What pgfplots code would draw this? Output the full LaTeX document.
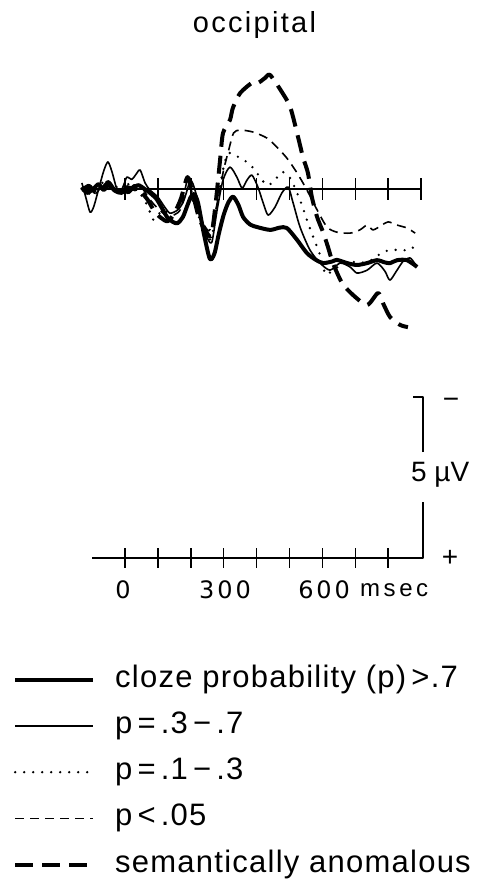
\documentclass[border=0pt]{standalone}
\usepackage{fontspec}
\setmainfont{Liberation Sans}
\newfontfamily\lab[LetterSpace=4]{Liberation Sans}
\newfontfamily\tit[LetterSpace=8]{Liberation Sans}
\newfontfamily\num[LetterSpace=12]{DejaVu Sans}
\newfontfamily\unit[LetterSpace=15]{Liberation Sans}
\usepackage{pgfplots}
\pgfplotsset{compat=1.18}

\begin{document}
\begin{tikzpicture}
\begin{axis}[
  scale only axis, width=481pt, height=887pt,
  xmin=-379.9, xmax=1082.1, ymin=-5.870, ymax=21.677,
  y dir=reverse, hide axis, clip=false,
  legend cell align=left,
  legend style={at={(0.0208,0.2525)}, anchor=north west, draw=none, fill=none,
    row sep=17.25pt, column sep=20pt,
    nodes={inner sep=0pt, text height=22pt, text depth=7pt,
      font={\lab\fontsize{31}{36}\selectfont}}},
  legend image code/.code={\draw[#1] (0pt,0pt) -- (78pt,0pt);},
  every axis plot/.append style={smooth, tension=0.45, line join=round},
]
% cloze probability > .7 (thick solid)
\addplot[black, line width=4pt] coordinates {
(-131,-0.06) (-115,0.12) (-97,0.0) (-80,-0.15) (-65,0.03) (-49,-0.12) (-30,0.06) (-10,0.12)
(6,-0.06) (21,0.0) (40,-0.12) (60,0.0) (76,0.12) (95,0.30) (110,0.55) (128,0.87) (145,1.02)
(160,1.06) (176,0.87) (190,0.50) (200,0.25) (210,0.15) (222,0.43) (240,1.40) (258,2.17)
(272,2.00) (285,1.40) (300,0.80) (315,0.40) (329,0.24) (345,0.50) (359,0.87) (380,1.10)
(401,1.18) (441,1.27) (470,1.20) (492,1.21) (523,1.58) (553,1.99) (580,2.20) (602,2.30)
(630,2.25) (644,2.20) (675,2.30) (705,2.36) (736,2.30) (766,2.21) (790,2.28) (806,2.30)
(827,2.21) (857,2.21) (888,2.42)};
% p = .3-.7 (thin solid)
\addplot[black, line width=1.6pt] coordinates {
(-131,-0.19) (-118,0.30) (-106,0.72) (-95,0.55) (-80,0.0) (-65,-0.55) (-52,-0.84) (-40,-0.55)
(-25,0.0) (-15,0.12) (-3,-0.15) (6,-0.37) (21,-0.30) (33,-0.45) (46,-0.59) (61,-0.19) (76,0.03)
(100,0.25) (120,0.55) (137,0.75) (160,0.65) (176,0.43) (190,0.0) (198,-0.28) (207,-0.15)
(220,0.30) (235,1.00) (249,1.49) (264,1.65) (280,0.65) (298,-0.28) (319,-0.68) (340,-0.37)
(356,-0.03) (371,-0.28) (386,-0.43) (404,-0.06) (420,0.43) (435,0.81) (456,0.56) (477,0.12)
(496,-0.06) (511,0.43) (532,1.18) (562,1.89) (593,2.30) (623,2.52) (654,2.30) (684,2.42)
(705,2.61) (736,2.52) (766,2.30) (790,2.55) (805,2.83) (825,2.55) (845,2.25) (866,2.14)
(880,2.30) (888,2.40)};
% p = .1-.3 (dotted)
\addplot[black, line width=2.6pt, line cap=round, dash pattern=on 0pt off 9pt] coordinates {
(-131,0.0) (-110,0.15) (-90,-0.10) (-70,-0.20) (-50,0.0) (-30,-0.10) (-10,0.10) (10,-0.15)
(30,-0.05) (50,0.20) (70,0.55) (85,0.95) (100,0.80) (120,0.65) (140,0.90) (165,1.00) (185,0.60)
(200,0.30) (215,0.55) (235,1.20) (255,1.60) (270,1.20) (285,0.20) (300,-0.70) (315,-1.12)
(350,-0.96) (374,-0.81) (395,-0.59) (416,-0.28) (435,-0.12) (456,-0.28) (477,-0.53)
(502,-0.34) (532,0.34) (553,0.96) (572,1.49) (593,2.05) (610,2.65) (632,2.52) (675,2.27)
(736,2.27) (784,1.96) (815,1.89) (866,1.89) (888,1.65)};
% p < .05 (thin dashed)
\addplot[black, line width=1.6pt, dash pattern=on 9pt off 6pt] coordinates {
(-131,0.05) (-110,0.05) (-90,0.15) (-70,-0.10) (-50,-0.25) (-30,0.0) (-10,0.05) (10,-0.10)
(30,0.05) (50,-0.05) (70,0.25) (90,0.50) (110,0.70) (130,0.85) (150,0.80) (170,0.60)
(190,-0.30) (200,0.0) (215,0.40) (235,1.00) (255,1.30) (270,0.90) (285,0.20) (300,-0.60)
(315,-1.20) (330,-1.74) (350,-1.83) (389,-1.77) (432,-1.58) (462,-1.30) (492,-0.96)
(523,-0.50) (553,0.03) (584,0.65) (614,1.18) (644,1.34) (684,1.37) (714,1.27) (736,1.12)
(754,1.27) (781,1.12) (800,1.02) (827,1.12) (857,1.21) (882,1.37)};
% semantically anomalous (thick dashed)
\addplot[black, line width=4pt, dash pattern=on 18pt off 9pt] coordinates {
(-131,0.05) (-110,-0.10) (-90,0.10) (-70,0.0) (-50,-0.20) (-30,0.05) (-10,-0.05) (10,0.10)
(30,-0.10) (50,0.10) (70,0.35) (90,0.70) (110,0.90) (130,1.00) (150,0.75) (170,0.30)
(190,-0.37) (205,0.10) (225,0.90) (245,1.30) (262,1.45) (275,0.50) (289,-0.90) (298,-1.74)
(319,-2.14) (328,-2.52) (350,-2.98) (389,-3.32) (404,-3.29) (426,-3.45) (441,-3.54)
(477,-3.01) (502,-2.55) (523,-1.74) (541,-0.99) (556,-0.50) (568,0.25) (584,0.87)
(602,1.34) (617,1.80) (632,2.30) (660,2.92) (693,3.29) (736,3.60) (769,3.23) (784,3.54)
(806,3.98) (836,4.22) (860,4.29)};
\legend{cloze probability (p)\,>.7, p\,=\,.3\,−\,.7, p\,=\,.1\,−\,.3, p\,<\,.05, semantically anomalous}

% baseline of the waveforms with 100 ms ticks
\addplot[forget plot, black, line width=1.5pt, sharp plot] coordinates {(-131,0) (900,0)};
\addplot[forget plot, only marks, mark=|, mark size=11pt, mark options={line width=1.5pt}]
  coordinates {(0,0) (100,0) (200,0) (300,0) (400,0) (500,0) (600,0) (700,0) (800,0) (900,0)};

% calibration: time axis and 5 uV bar
\addplot[forget plot, black, line width=1.8pt, sharp plot] coordinates {(-100,11.46) (906,11.46) (906,9.72)};
\addplot[forget plot, black, line width=1.8pt, sharp plot] coordinates {(906,8.17) (906,6.46) (875,6.46)};
\addplot[forget plot, only marks, mark=|, mark size=10pt, mark options={line width=1.5pt}]
  coordinates {(0,11.46) (100,11.46) (200,11.46) (300,11.46) (400,11.46) (500,11.46) (600,11.46) (700,11.46) (800,11.46)};

\node[font={\tit\fontsize{29}{34}\selectfont}] at (axis cs:393.6,-5.08) {occipital};
\node[font={\num\fontsize{24}{28}\selectfont}] at (axis cs:-6,12.45) {0};
\node[font={\num\fontsize{24}{28}\selectfont}] at (axis cs:304,12.45) {300};
\node[font={\num\fontsize{24}{28}\selectfont}] at (axis cs:605,12.45) {600};
\node[font={\unit\fontsize{24}{28}\selectfont}, anchor=west, inner sep=0pt] at (axis cs:714,12.45) {msec};
\node[font={\fontsize{28}{32}\selectfont}, anchor=west, inner sep=0pt] at (axis cs:869,8.88) {5 µV};
\node[font={\fontsize{28}{32}\selectfont}] at (axis cs:991,6.65) {−};
\node[font={\fontsize{28}{32}\selectfont}] at (axis cs:988,11.46) {+};
\end{axis}
\pgfresetboundingbox
\path (current axis.south west) rectangle (current axis.north east);
\end{tikzpicture}
\end{document}
